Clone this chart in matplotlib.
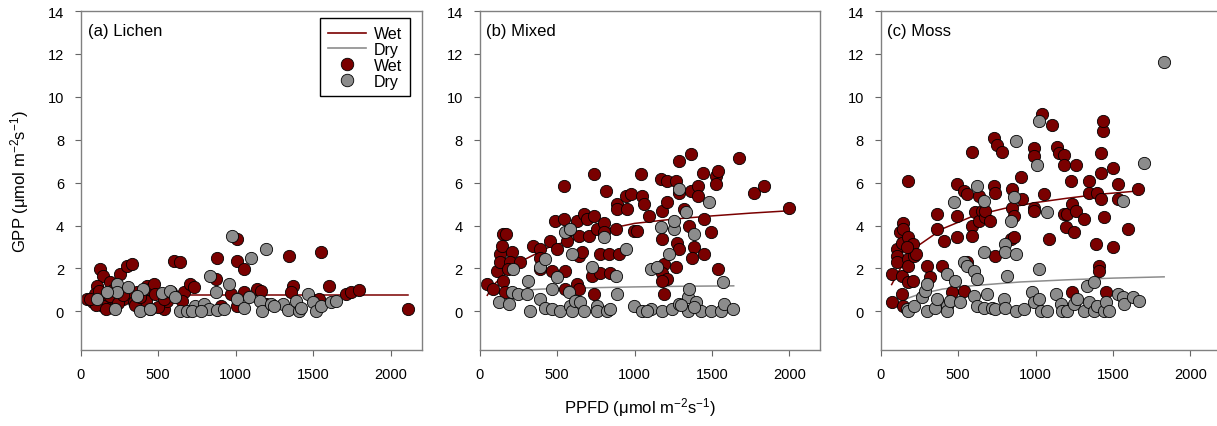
import matplotlib
matplotlib.use("Agg")
import matplotlib.pyplot as plt  # noqa: E402
from matplotlib.lines import Line2D  # noqa: E402

plt.rcParams["font.family"] = ["Liberation Sans", "DejaVu Sans"]
plt.rcParams["mathtext.default"] = "regular"

WET = "#7a0000"
DRY = "#8c8c8c"

# ---- (a) Lichen ----
lichen_wet_x = [39, 125, 145, 104, 82, 254, 298, 330, 190, 233, 168, 146, 276, 341, 363, 427,
                449, 470, 405, 449, 535, 557, 600, 639, 665, 655, 708, 730, 881, 870, 1010,
                1010, 1053, 967, 1053, 1140, 1161, 1345, 1367, 1356, 1550, 1604, 1539, 1712,
                1745, 1798, 2110, 1010, 1194, 902, 100, 160, 220, 300, 350, 420, 480, 500,
                540, 580, 190, 240, 93, 60, 120, 210, 270, 380]
lichen_wet_y = [0.57, 1.97, 1.66, 1.19, 0.43, 1.74, 2.12, 2.2, 1.35, 0.88, 0.57, 0.26, 0.57,
                0.42, 0.88, 1.19, 1.04, 1.27, 0.57, 0.1, 0.1, 0.5, 2.36, 2.28, 0.88, 0.5, 1.27,
                1.12, 2.51, 1.5, 3.37, 2.36, 1.97, 0.8, 0.88, 1.04, 0.97, 2.59, 1.19, 0.88,
                2.75, 1.17, 0.57, 0.8, 0.92, 1.0, 0.1, 0.26, 0.35, 0.26, 0.3, 0.1, 0.6, 0.9,
                0.3, 0.5, 0.8, 0.2, 0.6, 0.9, 0.7, 0.4, 0.8, 0.6, 0.95, 1.0, 0.75, 0.65]
lichen_dry_x = [104, 233, 235, 222, 308, 384, 405, 449, 524, 578, 611, 643, 687, 740, 794, 837,
                870, 826, 880, 924, 956, 978, 1010, 1053, 1097, 1086, 1155, 1172, 1194, 1226,
                1302, 1335, 1388, 1410, 1465, 1496, 1518, 1550, 1615, 1647, 720, 777, 1248,
                1420, 360, 168]
lichen_dry_y = [0.57, 1.27, 0.88, 0.1, 1.12, 0.03, 1.04, 0.1, 0.85, 0.96, 0.65, 0.03, 0.03,
                0.26, 0.35, 1.66, 0.92, 0.1, 0.07, 0.1, 1.27, 3.52, 0.57, 0.15, 2.51, 0.65,
                0.5, 0.03, 2.93, 0.35, 0.35, 0.07, 0.5, 0.03, 0.8, 0.42, 0.03, 0.26, 0.42,
                0.5, 0.03, 0.03, 0.26, 0.15, 0.7, 0.88]
lichen_fit_wet_x = [40, 500, 1000, 1500, 2110]
lichen_fit_wet_y = [0.77, 0.77, 0.77, 0.77, 0.77]

# ---- (b) Mixed ----
mixed_wet_x = [46, 90, 111, 133, 154, 170, 146, 133, 154, 165, 208, 198, 187, 262, 348, 392,
               392, 392, 457, 500, 468, 554, 543, 489, 543, 565, 565, 554, 630, 640, 640, 662,
               630, 640, 672, 694, 705, 737, 737, 737, 727, 780, 780, 759, 802, 801, 813, 834,
               845, 878, 889, 889, 899, 953, 942, 975, 996, 1018, 1040, 1050, 1061, 1093,
               1169, 1212, 1180, 1212, 1180, 1190, 1180, 1212, 1180, 1190, 1266, 1288, 1288,
               1266, 1277, 1288, 1320, 1363, 1363, 1385, 1374, 1352, 1407, 1407, 1439, 1450,
               1450, 1493, 1525, 1536, 1525, 1536, 1676, 1773, 1838, 2000]
mixed_wet_y = [1.27, 1.04, 1.89, 2.67, 3.6, 3.6, 3.06, 2.28, 1.43, 0.88, 2.75, 2.28, 1.97,
               2.28, 3.06, 2.9, 2.51, 1.97, 3.29, 2.9, 1.89, 1.89, 5.85, 4.22, 4.3, 3.68,
               3.29, 1.04, 4.22, 3.52, 2.59, 2.75, 1.27, 1.04, 4.53, 4.3, 3.52, 4.45, 6.39,
               0.8, 1.66, 1.81, 2.67, 3.83, 4.14, 3.68, 5.62, 2.67, 1.81, 3.83, 5.0, 4.77,
               2.67, 4.77, 5.39, 5.47, 3.75, 3.75, 6.39, 5.39, 5.0, 4.45, 6.16, 6.08, 4.69,
               5.08, 3.37, 2.2, 1.81, 1.5, 1.43, 0.8, 6.08, 7.01, 5.54, 2.05, 3.21, 2.9, 4.77,
               7.33, 5.62, 2.98, 2.51, 3.99, 5.85, 5.39, 6.47, 4.3, 2.67, 3.68, 6.31, 6.55,
               5.93, 1.97, 7.17, 5.54, 5.85, 4.84]
mixed_dry_x = [128, 193, 219, 208, 250, 306, 316, 327, 392, 392, 424, 424, 468, 468, 500, 521,
               554, 586, 597, 575, 586, 597, 619, 651, 672, 727, 759, 759, 802, 824, 878, 889,
               942, 996, 1050, 1104, 1104, 1148, 1169, 1180, 1223, 1245, 1255, 1255, 1288,
               1288, 1331, 1342, 1352, 1342, 1385, 1396, 1428, 1482, 1493, 1558, 1569, 1580,
               1633, 1385, 1300, 845, 1080]
mixed_dry_y = [0.42, 0.34, 1.97, 0.88, 0.8, 0.8, 1.43, 0.03, 2.05, 0.57, 2.44, 0.15, 1.04,
               0.1, 1.58, 0.03, 3.68, 3.83, 2.67, 0.88, 0.26, 0.03, 0.5, 0.42, 0.03, 2.05,
               0.26, 0.03, 3.45, 0.03, 1.66, 0.8, 2.9, 0.26, 0.03, 0.1, 1.97, 2.05, 3.91, 0.03,
               2.67, 0.1, 3.83, 4.22, 5.7, 0.34, 4.61, 0.65, 1.04, 0.03, 3.6, 0.42, 0.03, 5.08,
               0.03, 0.03, 1.35, 0.34, 0.1, 0.2, 0.3, 0.1, 0.03]
mixed_fit_wet_x = [50, 100, 200, 300, 450, 600, 800, 1000, 1250, 1500, 1750, 2000]
mixed_fit_wet_y = [0.75, 1.3, 2.0, 2.45, 3.0, 3.35, 3.8, 4.1, 4.3, 4.45, 4.58, 4.69]
mixed_fit_dry_x = [90, 200, 400, 700, 1000, 1300, 1640]
mixed_fit_dry_y = [0.8, 0.95, 1.04, 1.1, 1.14, 1.17, 1.19]

# ---- (c) Moss ----
moss_wet_x = [72, 72, 105, 105, 105, 126, 148, 148, 137, 137, 137, 148, 180, 177, 177, 177,
              180, 212, 212, 215, 226, 170, 299, 321, 364, 364, 396, 407, 461, 494, 494, 494,
              536, 558, 536, 558, 591, 591, 591, 612, 634, 634, 655, 677, 677, 709, 731, 752,
              785, 731, 741, 741, 850, 850, 861, 839, 861, 904, 915, 990, 990, 990, 990, 1044,
              1109, 1054, 1087, 1141, 1152, 1184, 1184, 1227, 1260, 1184, 1205, 1195, 1249,
              1238, 1260, 1238, 1313, 1346, 1346, 1389, 1400, 1422, 1422, 1422, 1433, 1433,
              1443, 1411, 1411, 1455, 1498, 1498, 1530, 1530, 1595, 1659]
moss_wet_y = [0.42, 1.74, 2.9, 2.59, 2.28, 3.68, 4.14, 3.83, 3.21, 1.66, 0.8, 0.26, 3.45,
              2.43, 2.12, 1.35, 6.08, 3.14, 1.43, 2.59, 2.67, 3.0, 2.12, 1.58, 4.53, 3.83,
              2.12, 3.29, 0.88, 5.93, 4.45, 3.45, 5.62, 5.47, 0.97, 2.28, 7.41, 3.99, 3.52,
              4.61, 5.39, 4.22, 4.69, 4.38, 4.69, 4.22, 8.1, 7.77, 7.45, 5.85, 5.54, 2.59,
              5.7, 4.84, 4.45, 3.37, 3.45, 6.24, 5.23, 7.6, 7.22, 4.84, 4.69, 9.19, 8.7, 5.47,
              3.37, 7.68, 7.37, 7.29, 6.84, 6.08, 6.84, 4.53, 4.53, 3.91, 3.68, 5.0, 4.69,
              0.88, 4.3, 6.08, 5.54, 3.14, 5.54, 5.23, 6.47, 7.37, 8.4, 8.85, 4.38, 2.12,
              1.89, 0.88, 6.7, 2.98, 5.93, 5.23, 3.83, 5.7]
moss_dry_x = [170, 177, 215, 267, 288, 299, 299, 353, 366, 429, 429, 450, 472, 429, 483, 515,
              536, 558, 601, 623, 601, 623, 623, 666, 666, 666, 690, 720, 741, 795, 806, 817,
              806, 806, 871, 839, 861, 871, 871, 925, 979, 990, 1022, 1011, 1022, 1033, 1022,
              1076, 1076, 1130, 1162, 1173, 1205, 1249, 1270, 1313, 1335, 1346, 1378, 1378,
              1400, 1443, 1455, 1530, 1563, 1573, 1627, 1670, 1562, 1698, 1832, 1475]
moss_dry_y = [0.1, 0.03, 0.26, 0.65, 0.97, 1.27, 0.03, 0.15, 0.57, 0.26, 0.03, 0.5, 5.08,
              1.74, 1.43, 0.42, 2.28, 2.12, 1.89, 1.5, 0.7, 0.26, 5.85, 5.16, 2.75, 0.15, 0.8,
              0.15, 0.1, 0.57, 0.15, 1.66, 3.14, 2.75, 2.67, 4.22, 5.31, 7.95, 0.03, 0.1,
              0.88, 0.42, 8.85, 6.8, 1.97, 0.03, 0.57, 4.61, 0.03, 0.8, 0.34, 0.03, 0.03,
              0.34, 0.57, 0.03, 1.19, 0.42, 1.35, 0.03, 0.26, 0.03, 0.42, 0.8, 0.65, 0.34,
              0.65, 0.5, 5.16, 6.9, 11.64, 0.03]
moss_fit_wet_x = [72, 120, 180, 250, 400, 600, 800, 1000, 1200, 1400, 1690]
moss_fit_wet_y = [1.25, 1.9, 2.55, 3.1, 3.85, 4.45, 4.8, 5.07, 5.27, 5.45, 5.63]
moss_fit_dry_x = [170, 250, 400, 600, 900, 1200, 1500, 1830]
moss_fit_dry_y = [0.6, 0.8, 1.04, 1.2, 1.37, 1.47, 1.55, 1.61]

panels = [
    ("(a) Lichen", lichen_wet_x, lichen_wet_y, lichen_dry_x, lichen_dry_y,
     (lichen_fit_wet_x, lichen_fit_wet_y), None),
    ("(b) Mixed", mixed_wet_x, mixed_wet_y, mixed_dry_x, mixed_dry_y,
     (mixed_fit_wet_x, mixed_fit_wet_y), (mixed_fit_dry_x, mixed_fit_dry_y)),
    ("(c) Moss", moss_wet_x, moss_wet_y, moss_dry_x, moss_dry_y,
     (moss_fit_wet_x, moss_fit_wet_y), (moss_fit_dry_x, moss_fit_dry_y)),
]

W, H = 1217, 427
fig = plt.figure(figsize=(W / 100, H / 100), dpi=100)
lefts = [80.7, 479.5, 880.5]
axw = 341
bottom_px, top_px = 351, 12

axes = []
for (title, wx, wy, dx, dy, fw, fd), lpx in zip(panels, lefts):
    ax = fig.add_axes([lpx / W, (H - bottom_px) / H, axw / W, (bottom_px - top_px) / H])
    axes.append(ax)
    if fw is not None:
        ax.plot(fw[0], fw[1], color=WET, lw=1.1, zorder=1)
    if fd is not None:
        ax.plot(fd[0], fd[1], color=DRY, lw=1.1, zorder=1)
    ax.scatter(wx, wy, s=78, color=WET, edgecolor="black", linewidth=0.6, zorder=2)
    ax.scatter(dx, dy, s=78, color=DRY, edgecolor="black", linewidth=0.6, zorder=3)
    ax.set_xlim(0, 2200)
    ax.set_ylim(-1.8, 14)
    ax.set_xticks([0, 500, 1000, 1500, 2000])
    ax.set_yticks(range(0, 15, 2))
    ax.tick_params(direction="out", length=4, width=0.8, color="#666666",
                   labelsize=10.5, pad=8)
    for sp in ax.spines.values():
        sp.set_color("#808080")
        sp.set_linewidth(1.0)
    ax.text(0.02, 0.965, title, transform=ax.transAxes, ha="left", va="top", fontsize=12)

handles = [
    Line2D([], [], color=WET, lw=1.2),
    Line2D([], [], color=DRY, lw=1.2),
    Line2D([], [], ls="", marker="o", markersize=9, markerfacecolor=WET,
           markeredgecolor="black", markeredgewidth=0.6),
    Line2D([], [], ls="", marker="o", markersize=9, markerfacecolor=DRY,
           markeredgecolor="black", markeredgewidth=0.6),
]
leg = axes[0].legend(handles, ["Wet", "Dry", "Wet", "Dry"], loc="upper right",
                     bbox_to_anchor=(0.967, 0.979), borderaxespad=0, fontsize=11.5,
                     fancybox=False, framealpha=1, edgecolor="black", handlelength=2.4,
                     labelspacing=0.05, handletextpad=0.5, borderpad=0.5)
leg.get_frame().set_linewidth(1.0)

fig.text(20 / W, 1 - 182 / H, "GPP (μmol m$^{-2}$s$^{-1}$)", rotation=90,
         ha="center", va="center", fontsize=12)
fig.text(640 / W, 1 - 408 / H, "PPFD (μmol m$^{-2}$s$^{-1}$)",
         ha="center", va="center", fontsize=12)

fig.savefig("out.png", dpi=100)
